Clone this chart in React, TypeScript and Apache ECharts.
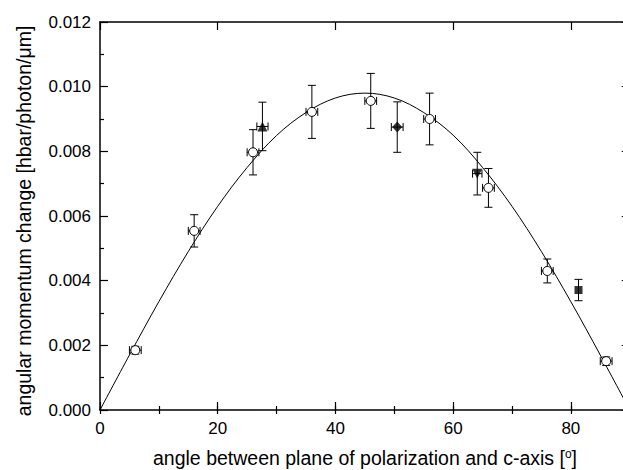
import React, { useEffect, useRef } from "react";
import * as echarts from "echarts";

// ---- data ----
const circleX = [6, 16, 26, 36, 46, 56, 66, 76, 86];
const circleY = [0.00185, 0.00554, 0.00797, 0.00922, 0.00956, 0.009, 0.00687, 0.0043, 0.00151];
const circleYErr = [0.00012, 0.0005, 0.0007, 0.00082, 0.00085, 0.0008, 0.0006, 0.00037, 0.00013];
const circleXErr = [1, 1, 1, 1, 1, 1, 1, 1, 1];

const triUp = { x: 27.6, y: 0.00877, yErr: 0.00075, xErr: 0.95 };
const diamond = { x: 50.5, y: 0.00875, yErr: 0.00078, xErr: 1 };
const triDown = { x: 64.1, y: 0.00731, yErr: 0.00066, xErr: 0.8 };
const square = { x: 81.3, y: 0.00371, yErr: 0.00033, xErr: 0 };

const curveX = [0, 5, 10, 15, 20, 25, 30, 35, 40, 45, 50, 55, 60, 65, 70, 75, 80, 85, 90];
const curveY = [0, 0.0017, 0.00335, 0.0049, 0.0063, 0.0075, 0.00849, 0.0092, 0.00965, 0.0098, 0.00965, 0.0092, 0.0085, 0.0075, 0.0063, 0.0049, 0.00335, 0.0017, 0];

const xTitle = "angle between plane of polarization and c-axis [";
const yTitle = "angular momentum change [hbar/photon/\u03bcm]";

const FONT = '"Liberation Sans", Arial, Helvetica, sans-serif';

export default function App() {
  const ref = useRef<HTMLDivElement>(null);

  useEffect(() => {
    if (!ref.current) return;
    const chart = echarts.init(ref.current, null, { renderer: "svg" });

    const errData: number[][] = [];
    circleX.forEach((x, i) => errData.push([x, circleY[i], circleXErr[i], circleYErr[i]]));
    [triUp, diamond, triDown, square].forEach((p) => errData.push([p.x, p.y, p.xErr, p.yErr]));

    const black = "#000";
    const axisLine = { show: true, onZero: false, lineStyle: { color: black, width: 1.5 } };
    const majorTick = { show: true, inside: true, length: 8, lineStyle: { color: black, width: 1.2 } };
    const minorTickAxis = { show: true, inside: true, length: 4, lineStyle: { color: black, width: 1.2 } };

    const xBase = { type: "value", min: 0, max: 90, splitLine: { show: false } };

    const option: any = {
      animation: false,
      backgroundColor: "#fff",
      grid: {
        left: 100,
        top: 22,
        width: 529.7,
        height: 388,
        containLabel: false,
        outerBoundsMode: "none",
      },
      xAxis: [
        {
          ...xBase,
          position: "bottom",
          interval: 20,
          axisLine,
          axisTick: majorTick,
          axisLabel: {
            show: true,
            margin: 10,
            color: black,
            fontSize: 17,
            fontFamily: FONT,
            formatter: (v: number) => (v === 90 ? "" : String(v)),
          },
        },
        {
          ...xBase,
          position: "top",
          interval: 20,
          axisLine,
          axisTick: majorTick,
          axisLabel: { show: false },
        },
        {
          ...xBase,
          position: "bottom",
          interval: 10,
          axisLine: { show: false },
          axisTick: minorTickAxis,
          axisLabel: { show: false },
        },
        {
          ...xBase,
          position: "top",
          interval: 10,
          axisLine: { show: false },
          axisTick: minorTickAxis,
          axisLabel: { show: false },
        },
      ],
      yAxis: [
        {
          type: "value",
          position: "left",
          min: 0,
          max: 0.012,
          interval: 0.002,
          splitLine: { show: false },
          axisLine,
          axisTick: majorTick,
          minorTick: { show: true, splitNumber: 2, length: 4, lineStyle: { color: black, width: 1.2 } },
          minorSplitLine: { show: false },
          axisLabel: {
            show: true,
            margin: 9,
            color: black,
            fontSize: 17,
            fontFamily: FONT,
            formatter: (v: number) => v.toFixed(3),
          },
        },
        {
          type: "value",
          position: "right",
          min: 0,
          max: 0.012,
          interval: 0.002,
          splitLine: { show: false },
          axisLine,
          axisTick: majorTick,
          minorTick: { show: true, splitNumber: 2, length: 4, lineStyle: { color: black, width: 1.2 } },
          minorSplitLine: { show: false },
          axisLabel: { show: false },
        },
      ],
      graphic: [
        {
          type: "text",
          x: 365,
          y: 458,
          style: {
            text: "{n|" + xTitle + "}{s|o}{n|]}",
            textAlign: "center",
            textVerticalAlign: "middle",
            fill: black,
            rich: {
              n: { fontSize: 19.5, fontFamily: FONT, color: black, verticalAlign: "bottom", lineHeight: 20 },
              s: { fontSize: 12, fontFamily: FONT, color: black, verticalAlign: "top", lineHeight: 20 },
            },
          },
        },
        {
          type: "text",
          x: 24,
          y: 221,
          rotation: Math.PI / 2,
          style: {
            text: yTitle,
            textAlign: "center",
            textVerticalAlign: "middle",
            fill: black,
            fontSize: 19.5,
            fontFamily: FONT,
          },
        },
      ],
      series: [
        {
          type: "line",
          xAxisIndex: 0,
          yAxisIndex: 0,
          data: curveX.map((x, i) => [x, curveY[i]]),
          smooth: 0.35,
          showSymbol: false,
          symbol: "none",
          lineStyle: { color: black, width: 1 },
          z: 1,
          silent: true,
        },
        {
          type: "custom",
          xAxisIndex: 0,
          yAxisIndex: 0,
          data: errData,
          encode: { x: 0, y: 1 },
          z: 2,
          silent: true,
          renderItem: (params: any, api: any) => {
            const x = api.value(0);
            const y = api.value(1);
            const xe = api.value(2);
            const ye = api.value(3);
            const style = { stroke: black, lineWidth: 1, fill: null };
            const children: any[] = [];
            const cap = 4;
            if (ye > 0) {
              const t = api.coord([x, y + ye]);
              const b = api.coord([x, y - ye]);
              children.push({ type: "line", shape: { x1: t[0], y1: t[1], x2: b[0], y2: b[1] }, style });
              children.push({ type: "line", shape: { x1: t[0] - cap, y1: t[1], x2: t[0] + cap, y2: t[1] }, style });
              children.push({ type: "line", shape: { x1: b[0] - cap, y1: b[1], x2: b[0] + cap, y2: b[1] }, style });
            }
            if (xe > 0) {
              const l = api.coord([x - xe, y]);
              const r = api.coord([x + xe, y]);
              children.push({ type: "line", shape: { x1: l[0], y1: l[1], x2: r[0], y2: r[1] }, style });
              children.push({ type: "line", shape: { x1: l[0], y1: l[1] - cap, x2: l[0], y2: l[1] + cap }, style });
              children.push({ type: "line", shape: { x1: r[0], y1: r[1] - cap, x2: r[0], y2: r[1] + cap }, style });
            }
            return { type: "group", children };
          },
        },
        {
          type: "scatter",
          xAxisIndex: 0,
          yAxisIndex: 0,
          data: circleX.map((x, i) => [x, circleY[i]]),
          symbol: "circle",
          symbolSize: 9,
          itemStyle: { color: "#fff", borderColor: black, borderWidth: 1, opacity: 1 },
          z: 3,
          silent: true,
        },
        {
          type: "scatter",
          xAxisIndex: 0,
          yAxisIndex: 0,
          data: [[triUp.x, triUp.y]],
          symbol: "triangle",
          symbolSize: 10,
          itemStyle: { color: black },
          z: 3,
          silent: true,
        },
        {
          type: "scatter",
          xAxisIndex: 0,
          yAxisIndex: 0,
          data: [[diamond.x, diamond.y]],
          symbol: "diamond",
          symbolSize: [10, 11],
          itemStyle: { color: black },
          z: 3,
          silent: true,
        },
        {
          type: "scatter",
          xAxisIndex: 0,
          yAxisIndex: 0,
          data: [[triDown.x, triDown.y]],
          symbol: "triangle",
          symbolRotate: 180,
          symbolSize: 10,
          itemStyle: { color: black },
          z: 3,
          silent: true,
        },
        {
          type: "scatter",
          xAxisIndex: 0,
          yAxisIndex: 0,
          data: [[square.x, square.y]],
          symbol: "rect",
          symbolSize: 8,
          itemStyle: { color: black },
          z: 3,
          silent: true,
        },
      ],
    };

    chart.setOption(option);
    return () => chart.dispose();
  }, []);

  return (
    <div
      ref={ref}
      style={{ position: "fixed", left: 0, top: 0, width: 623, height: 470, background: "#fff" }}
    />
  );
}
